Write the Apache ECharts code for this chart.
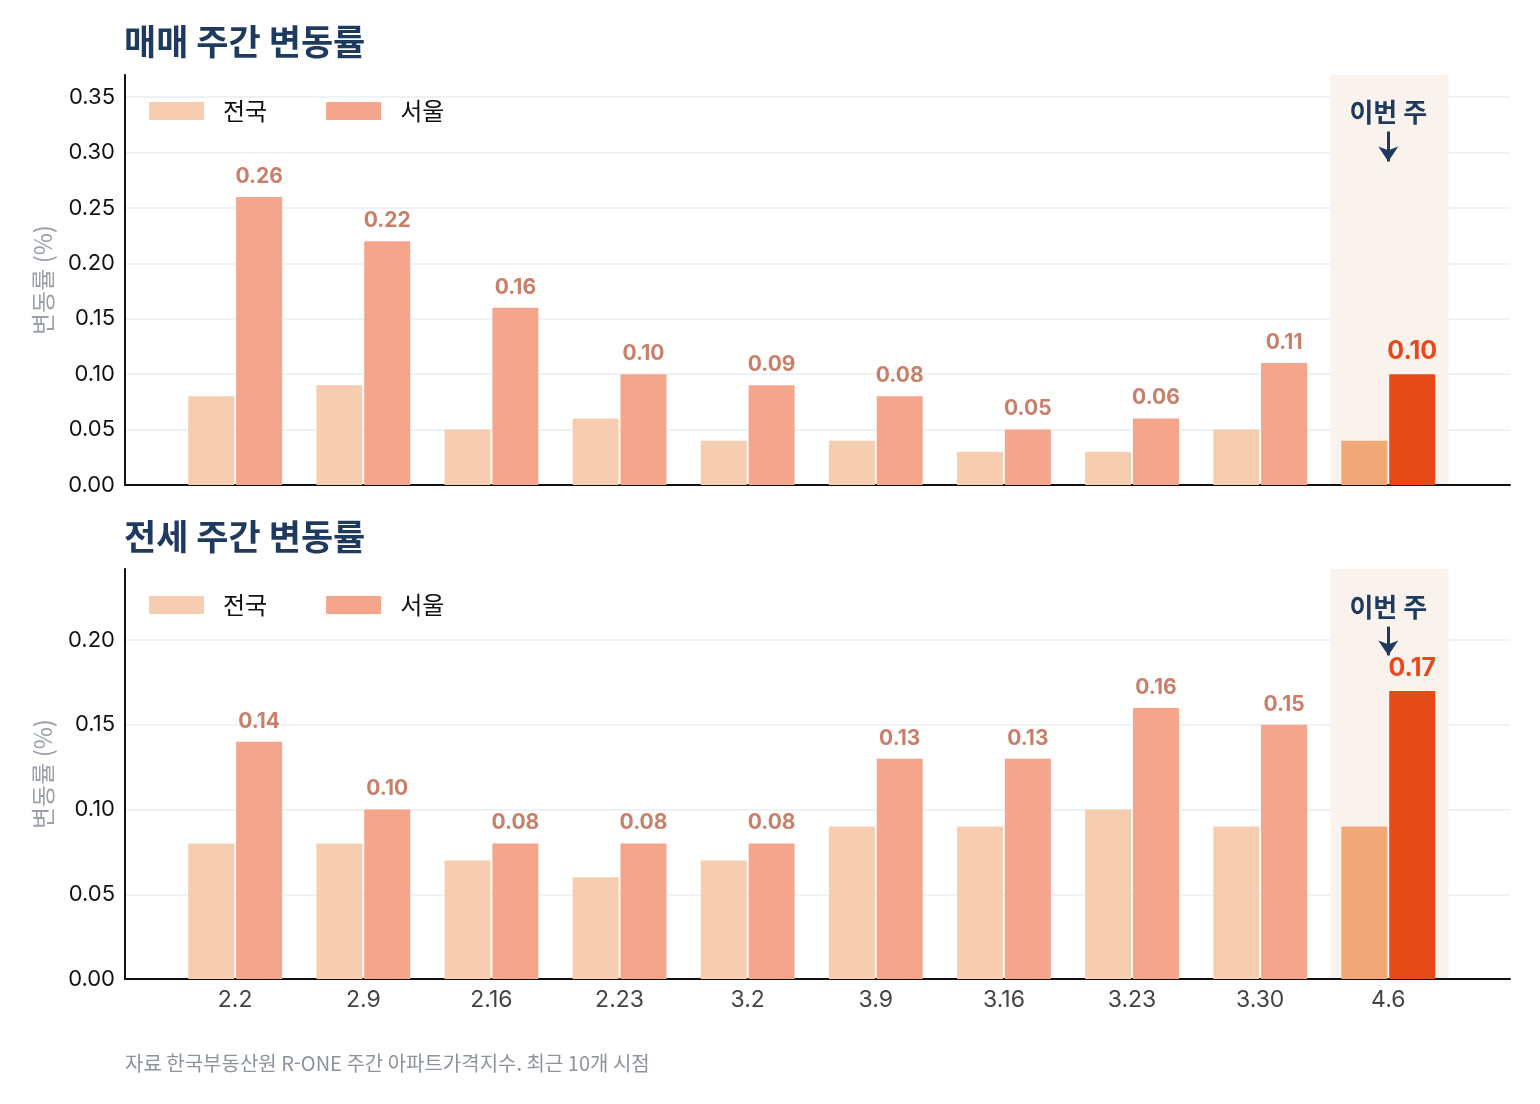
<!DOCTYPE html>
<html lang="ko">
<head>
<meta charset="UTF-8">
<title>주간 변동률</title>
<script src="https://cdn.jsdelivr.net/npm/echarts@6/dist/echarts.min.js"></script>
<style>
  html, body { margin: 0; padding: 0; background: #fff; }
  #chart { width: 1540px; height: 1104px; }
</style>
</head>
<body>
<div id="chart"></div>
<script>
// 주차 라벨
var weeks = ['2.2', '2.9', '2.16', '2.23', '3.2', '3.9', '3.16', '3.23', '3.30', '4.6'];

// 매매 변동률 (%)
var saleNation = [0.08, 0.09, 0.05, 0.06, 0.04, 0.04, 0.03, 0.03, 0.05, 0.04];
var saleSeoul  = [0.26, 0.22, 0.16, 0.10, 0.09, 0.08, 0.05, 0.06, 0.11, 0.10];

// 전세 변동률 (%)
var rentNation = [0.08, 0.08, 0.07, 0.06, 0.07, 0.09, 0.09, 0.10, 0.09, 0.09];
var rentSeoul  = [0.14, 0.10, 0.08, 0.08, 0.08, 0.13, 0.13, 0.16, 0.15, 0.17];

var KR = '"Noto Sans CJK KR", "Noto Sans", sans-serif';
var NUM = 'Inter, "Noto Sans CJK KR", sans-serif';
var NAVY = '#1e3a5f';
var last = weeks.length - 1;

// 막대 색: 마지막 주는 강조색
function nationData(arr) {
  return arr.map(function (v, i) {
    return { value: [i, v], itemStyle: { color: i === last ? '#f0a878' : '#f6cdb0' } };
  });
}
function seoulData(arr) {
  return arr.map(function (v, i) {
    var d = { value: [i, v], itemStyle: { color: i === last ? '#e64a19' : '#f4a58c' } };
    if (i === last) {
      d.label = { color: '#e8481c', fontSize: 25, fontWeight: 'bold' };
    }
    return d;
  });
}

function xAxisFor(gridIndex, showLabels) {
  return {
    type: 'value', gridIndex: gridIndex, min: -0.86, max: 9.95,
    axisLine: { show: true, onZero: false, lineStyle: { color: '#111', width: 2 } },
    axisTick: { show: false },
    splitLine: { show: false },
    axisLabel: {
      show: showLabels,
      customValues: weeks.map(function (w, i) { return i; }),
      formatter: function (v) { return weeks[Math.round(v)]; },
      fontFamily: NUM, fontSize: 23, color: '#444', margin: 10
    }
  };
}
function yAxisFor(gridIndex, max) {
  return {
    type: 'value', gridIndex: gridIndex, min: 0, max: max, interval: 0.05,
    name: '변동률 (%)', nameLocation: 'middle', nameGap: 70,
    nameTextStyle: { fontFamily: KR, fontSize: 24, color: '#9aa1aa' },
    axisLine: { show: true, onZero: false, lineStyle: { color: '#111', width: 2 } },
    axisTick: { show: false },
    splitLine: { show: true, showMaxLine: false, lineStyle: { color: '#eef1f5', width: 2 } },
    axisLabel: {
      showMaxLabel: false, fontFamily: NUM, fontSize: 22, color: '#111', margin: 10,
      formatter: function (v) { return v.toFixed(2); }
    }
  };
}

function barSeries(name, data, idx, withLabel) {
  var s = {
    name: name, type: 'bar', xAxisIndex: idx, yAxisIndex: idx,
    data: data, barWidth: 46, barGap: '4%',
    label: {
      show: withLabel, position: 'top', distance: 10,
      fontFamily: NUM, fontSize: 21, fontWeight: 'bold', color: '#c8806a',
      formatter: function (p) { return p.value[1].toFixed(2); }
    }
  };
  if (!withLabel) {
    // 이번 주 강조 영역
    s.markArea = {
      silent: true, z: 0,
      itemStyle: { color: '#faf2ed' },
      data: [[{ xAxis: 8.548 }, { xAxis: 9.469 }]]
    };
  }
  return s;
}

// '이번 주' 화살표 (막대 오프셋이 없는 빈 선 시리즈에 부착)
function arrowSeries(idx, arrow) {
  return {
    type: 'line', xAxisIndex: idx, yAxisIndex: idx, data: [], silent: true,
    markLine: {
      silent: true, symbol: ['none', 'arrow'], symbolSize: [15, 15],
      lineStyle: { color: NAVY, width: 3, type: 'solid' },
      label: {
        show: true, position: 'start', formatter: '이번 주', distance: 6,
        fontFamily: KR, fontSize: 26, fontWeight: 'bold', color: NAVY
      },
      data: [[{ coord: [last, arrow[0]] }, { coord: [last, arrow[1]] }]]
    }
  };
}

var legendText = { fontFamily: KR, fontSize: 24, color: '#111', padding: [0, 0, 0, 14] };
function trimName(n) { return n.trim(); }

var chart = echarts.init(document.getElementById('chart'));
chart.setOption({
  backgroundColor: '#fff',
  animation: false,
  title: [
    { text: '매매 주간 변동률', left: 119, top: 19,
      textStyle: { fontFamily: KR, fontSize: 35, fontWeight: 'bold', color: NAVY } },
    { text: '전세 주간 변동률', left: 119, top: 514,
      textStyle: { fontFamily: KR, fontSize: 35, fontWeight: 'bold', color: NAVY } },
    { text: '자료 한국부동산원 R-ONE 주간 아파트가격지수. 최근 10개 시점', left: 120, top: 1048,
      textStyle: { fontFamily: KR, fontSize: 20, fontWeight: 'normal', color: '#8c939c' } }
  ],
  legend: [
    { data: ['전국', '서울'], left: 144, top: 94, itemWidth: 55, itemHeight: 18, itemGap: 59,
      icon: 'rect', textStyle: legendText, formatter: trimName },
    { data: ['전국 ', '서울 '], left: 144, top: 588, itemWidth: 55, itemHeight: 18, itemGap: 59,
      icon: 'rect', textStyle: legendText, formatter: trimName }
  ],
  grid: [
    { left: 125, top: 75, width: 1385, height: 410 },
    { left: 125, top: 569, width: 1385, height: 410 }
  ],
  xAxis: [xAxisFor(0, false), xAxisFor(1, true)],
  yAxis: [yAxisFor(0, 0.37), yAxisFor(1, 0.242)],
  series: [
    Object.assign(barSeries('전국', nationData(saleNation), 0, false), { itemStyle: { color: '#f6cdb0' } }),
    Object.assign(barSeries('서울', seoulData(saleSeoul), 0, true), { itemStyle: { color: '#f4a58c' } }),
    Object.assign(barSeries('전국 ', nationData(rentNation), 1, false), { itemStyle: { color: '#f6cdb0' } }),
    Object.assign(barSeries('서울 ', seoulData(rentSeoul), 1, true), { itemStyle: { color: '#f4a58c' } }),
    arrowSeries(0, [0.319, 0.292]),
    arrowSeries(1, [0.208, 0.191])
  ]
});
</script>
</body>
</html>
